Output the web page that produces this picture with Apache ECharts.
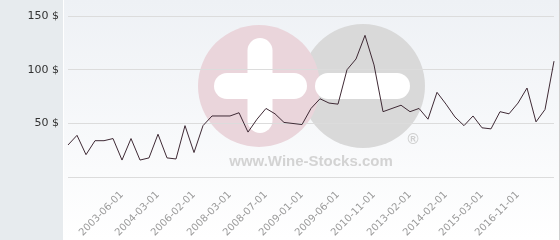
<!DOCTYPE html>
<html><head><meta charset="utf-8">
<script src="https://cdn.jsdelivr.net/npm/echarts@6/dist/echarts.min.js"></script>
<style>html,body{margin:0;padding:0;background:#fff}#c{width:560px;height:240px}</style>
</head><body><div id="c"></div>
<script>
const categories = [
  '2002-06-01','2002-09-01','2002-11-01','2003-01-01','2003-03-01','2003-04-01',
  '2003-06-01','2003-08-01','2003-10-01','2003-12-01','2004-03-01','2004-09-01',
  '2005-03-01','2005-08-01','2006-02-01','2006-09-01','2007-04-01','2007-10-01',
  '2008-03-01','2008-04-01','2008-05-01','2008-06-01','2008-07-01','2008-09-01',
  '2008-10-01','2008-12-01','2009-01-01','2009-02-01','2009-03-01','2009-05-01',
  '2009-06-01','2009-11-01','2010-03-01','2010-07-01','2010-11-01','2011-07-01',
  '2012-01-01','2012-07-01','2013-02-01','2013-05-01','2013-08-01','2013-11-01',
  '2014-02-01','2014-05-01','2014-08-01','2014-11-01','2015-03-01','2015-08-01',
  '2016-01-01','2016-06-01','2016-11-01','2017-04-01','2017-09-01','2018-02-01',
  '2018-07-01'
];
const prices = [
  30, 39, 21, 34, 34, 36, 16, 36, 16, 18, 40, 18, 17, 48, 23,
  48, 57, 57, 57, 60, 42, 54, 64, 59, 51, 50, 49, 64, 73, 69,
  68, 100, 110, 132, 104.5, 61, 64, 67, 61, 64, 54, 79, 68, 56, 48,
  57, 46, 45, 61, 59, 69, 83, 51.5, 63, 108
];
const tickLabels = [
  '2003-06-01','2004-03-01','2006-02-01','2008-03-01','2008-07-01','2009-01-01',
  '2009-06-01','2010-11-01','2013-02-01','2014-02-01','2015-03-01','2016-11-01'
];
const yMin = 0, yMax = 150, yStep = 50;

const chart = echarts.init(document.getElementById('c'), null, {renderer: 'canvas'});
const bgZ = -20, wmZ = -10;
chart.setOption({
  animation: false,
  graphic: [
    {type: 'rect', z: bgZ, shape: {x: 0, y: 0, width: 63, height: 240}, style: {fill: '#e7ebee'}},
    {type: 'rect', z: bgZ, shape: {x: 63, y: 0, width: 1, height: 240}, style: {fill: '#ffffff'}},
    {type: 'rect', z: bgZ, shape: {x: 64, y: 0, width: 495, height: 240},
      style: {fill: new echarts.graphic.LinearGradient(0, 0, 0, 1, [
        {offset: 0, color: '#eef1f5'}, {offset: 1, color: '#ffffff'}])}},
    {type: 'rect', z: bgZ, shape: {x: 559, y: 0, width: 1, height: 240}, style: {fill: '#d0d0d0'}},
    {type: 'circle', z: wmZ, shape: {cx: 363, cy: 86, r: 62}, style: {fill: '#d9d9d9'}},
    {type: 'circle', z: wmZ, shape: {cx: 259, cy: 86, r: 61}, style: {fill: '#ead5db'}},
    {type: 'rect', z: wmZ, shape: {x: 247.5, y: 38, width: 25, height: 95, r: 12.5}, style: {fill: '#ffffff'}},
    {type: 'rect', z: wmZ, shape: {x: 214, y: 73, width: 93, height: 26, r: 13}, style: {fill: '#ffffff'}},
    {type: 'rect', z: wmZ, shape: {x: 315, y: 73, width: 95, height: 26, r: 13}, style: {fill: '#ffffff'}},
    {type: 'text', z: wmZ, x: 311, y: 162, style: {text: 'www.Wine-Stocks.com', fill: '#d3d3d3',
      font: 'bold 15px "Liberation Sans", Arial, sans-serif', align: 'center', verticalAlign: 'middle'}},
    {type: 'text', z: wmZ, x: 413, y: 140, style: {text: '®', fill: '#cfcfcf',
      font: 'bold 15px "Liberation Sans", Arial, sans-serif', align: 'center', verticalAlign: 'middle'}}
  ],
  grid: {left: 68, right: 6, top: 16, bottom: 62, containLabel: false},
  xAxis: {
    type: 'category',
    data: categories,
    boundaryGap: false,
    axisLine: {show: false},
    axisTick: {show: false},
    splitLine: {show: false},
    axisLabel: {
      rotate: 45,
      interval: (idx, val) => tickLabels.includes(val),
      color: '#9a9a9a',
      fontFamily: 'DejaVu Sans',
      fontSize: 10,
      margin: 16
    }
  },
  yAxis: {
    type: 'value',
    min: yMin, max: yMax, interval: yStep,
    axisLine: {show: false},
    axisTick: {show: false},
    splitLine: {lineStyle: {color: '#dcdcdc', width: 1}},
    axisLabel: {
      formatter: v => v === 0 ? '' : v + ' $',
      color: '#333333',
      fontFamily: 'DejaVu Sans',
      fontSize: 11,
      margin: 9
    }
  },
  series: [{
    type: 'line',
    data: prices,
    symbol: 'none',
    lineStyle: {color: '#3f2a35', width: 1},
    z: 5
  }]
});
</script>
</body></html>
